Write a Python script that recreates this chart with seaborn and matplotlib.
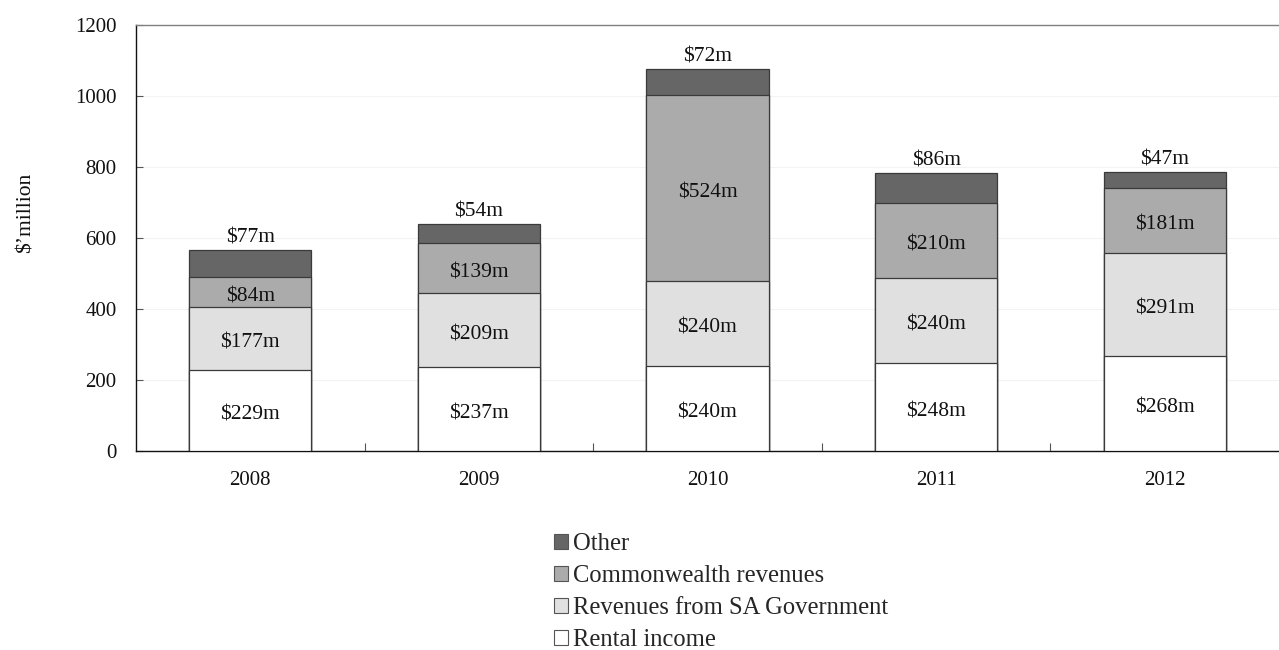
import matplotlib
matplotlib.use("Agg")
import matplotlib.pyplot as plt
from matplotlib.patches import Patch
import seaborn as sns
import numpy as np
import pandas as pd

years = ["2008", "2009", "2010", "2011", "2012"]
rental_income = [229, 237, 240, 248, 268]
sa_government = [177, 209, 240, 240, 291]
commonwealth = [84, 139, 524, 210, 181]
other = [77, 54, 72, 86, 47]

series_names = ["Rental income", "Revenues from SA Government",
                "Commonwealth revenues", "Other"]
series_values = [rental_income, sa_government, commonwealth, other]
series_colors = ["#ffffff", "#e0e0e0", "#ababab", "#666666"]

sns.set_theme(style="white")
plt.rcParams["font.family"] = ["Liberation Serif", "DejaVu Serif"]

fig = plt.figure(figsize=(12.79, 6.5), dpi=100)
ax = fig.add_axes([0.1063, 0.306, 0.8937, 0.6555])

# Stacked totals, drawn from the tallest layer down so each layer covers the one above
vals = np.array(series_values, dtype=float)
cum = np.cumsum(vals, axis=0)
bar_w = 0.535
for i in range(len(series_names) - 1, -1, -1):
    df = pd.DataFrame({"year": years, "value": cum[i]})
    sns.barplot(data=df, x="year", y="value", order=years, color=series_colors[i],
                width=bar_w, edgecolor="#3a3a3a", linewidth=0.9, saturation=1,
                ax=ax, zorder=3)

# Value labels: inside the lower three segments, above the bar for "Other"
for j in range(len(years)):
    for i in range(3):
        mid = cum[i, j] - vals[i, j] / 2
        ax.annotate(f"${int(vals[i, j])}m", (j, mid), xytext=(0, -3.5),
                    textcoords="offset points", ha="center", va="center",
                    fontsize=15.5, color="#111111", zorder=5)
    ax.annotate(f"${int(vals[3, j])}m", (j, cum[3, j]), xytext=(0, 1.8),
                textcoords="offset points", ha="center", va="bottom",
                fontsize=15.5, color="#111111", zorder=5)

ax.set_ylim(0, 1200)
ax.set_xlim(-0.5, len(years) - 0.5)
ax.set_yticks(np.arange(0, 1201, 200))
ax.yaxis.grid(True, color="#f3f3f3", linewidth=0.8, zorder=0)
ax.set_axisbelow(True)

ax.set_xticks(range(len(years)))
ax.set_xticklabels(years)
ax.set_xticks(np.arange(0.5, len(years) - 0.5, 1), minor=True)
ax.tick_params(axis="x", which="major", length=0, pad=14, labelsize=15, colors="#111111")
ax.tick_params(axis="x", which="minor", length=6, direction="in", width=0.8, color="#555555", bottom=True)
ax.tick_params(axis="y", which="major", length=5, direction="in", width=0.8, color="#555555",
               pad=14, labelsize=15, labelcolor="#111111", left=True)

ax.set_xlabel("")
ax.set_ylabel("$\u2019million", fontsize=15.5, color="#111111")
ax.yaxis.set_label_coords(-0.088, 0.559)

for side in ["left", "bottom"]:
    ax.spines[side].set_color("#111111")
    ax.spines[side].set_linewidth(1.0)
ax.spines["top"].set_color("#808080")
ax.spines["top"].set_linewidth(1.0)
ax.spines["right"].set_visible(False)

handles = [Patch(facecolor=series_colors[i], edgecolor="#555555", linewidth=0.8,
                 label=series_names[i]) for i in range(3, -1, -1)]
fig.legend(handles=handles, loc="upper left", bbox_to_anchor=(0.4335, 0.180),
           frameon=False, fontsize=17.7, handlelength=0.57, handleheight=0.57,
           handletextpad=0.2, labelspacing=0.41, borderaxespad=0, borderpad=0)

fig.savefig("out.png", dpi=100, facecolor="white")
